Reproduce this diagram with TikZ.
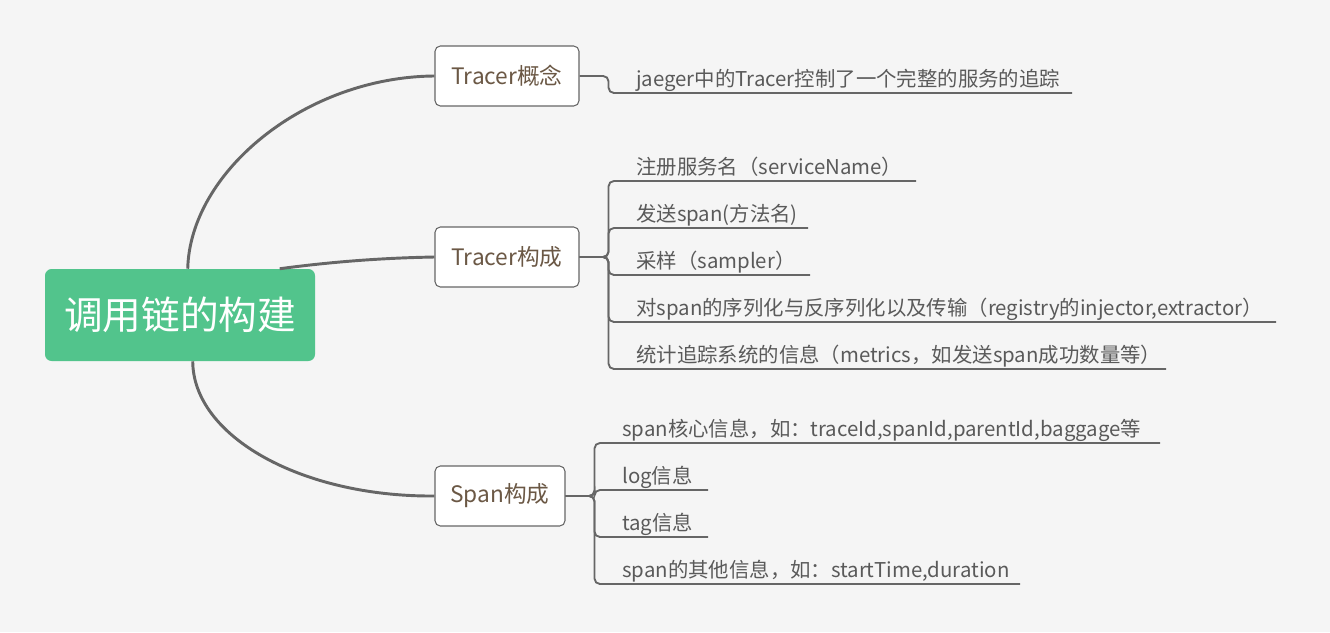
\documentclass[tikz,border=0pt]{standalone}
\usepackage{fontspec}
\setmainfont{Noto Sans CJK SC}
\usetikzlibrary{calc}
\definecolor{bg}{HTML}{F5F5F5}
\definecolor{rootgreen}{HTML}{52C48C}
\definecolor{linegray}{HTML}{666666}
\definecolor{boxtext}{HTML}{6B5845}
\definecolor{leaftext}{HTML}{5A5A5A}
\begin{document}
\begin{tikzpicture}[x=0.75pt,y=-0.75pt,
  conn/.style={draw=linegray,line width=2.2pt},
  branch/.style={draw=linegray,line width=1.4pt,rounded corners=4pt},
  topic/.style={draw=linegray,line width=0.8pt,fill=white,rounded corners=4pt,
    text=boxtext,font=\fontsize{17}{19}\selectfont,minimum height=45pt,inner sep=0pt},
  leaf/.style={anchor=base west,text=leaftext,font=\fontsize{15.3}{17}\selectfont,inner sep=0pt}]
\useasboundingbox[fill=bg] (0,0) rectangle (1330,632);

% root
\node[fill=rootgreen,rounded corners=5pt,minimum width=202.5pt,minimum height=69pt,
  inner sep=0pt,text=white,font=\fontsize{29}{31}\selectfont] (root) at (180,315) {调用链的构建};

% main topics
\node[topic,minimum width=108pt] (t1) at (507,76) {Tracer概念};
\node[topic,minimum width=108pt] (t2) at (507,257) {Tracer构成};
\node[topic,minimum width=97.5pt] (t3) at (500,496) {Span构成};

% root connectors
\coordinate (r1) at ($(root.north west)+(143,0)$);
\coordinate (r2) at ($(root.north west)+(235,0)$);
\coordinate (r3) at ($(root.south west)+(148,0)$);
\draw[conn] (r1) .. controls (190,172) and (305,77) .. (t1.west);
\draw[conn] (r2) .. controls (330,262) and (380,258) .. (t2.west);
\draw[conn] (r3) .. controls (193,436) and (301,497) .. (t3.west);

% Tracer概念 leaves
\coordinate (e1) at (1072,93);
\node[leaf] (l1) at (636,86) {jaeger中的Tracer控制了一个完整的服务的追踪};
\draw[branch] (t1.east) -- ++(29,0) |- (e1);

% Tracer构成 leaves
\coordinate (e21) at (916,181);
\coordinate (e22) at (808,228);
\coordinate (e23) at (810,275);
\coordinate (e24) at (1276,322);
\coordinate (e25) at (1166,369);
\node[leaf] (l21) at (636,174) {注册服务名（serviceName）};
\node[leaf] (l22) at (636,221) {发送span(方法名)};
\node[leaf] (l23) at (636,268) {采样（sampler）};
\node[leaf] (l24) at (636,315) {对span的序列化与反序列化以及传输（registry的injector,extractor）};
\node[leaf] (l25) at (636,362) {统计追踪系统的信息（metrics，如发送span成功数量等）};
\foreach \e in {e21,e22,e23,e24,e25}
  \draw[branch] (t2.east) -- ++(29,0) |- (\e);

% Span构成 leaves
\coordinate (e31) at (1160,443);
\coordinate (e32) at (708,490);
\coordinate (e33) at (708,537);
\coordinate (e34) at (1020,584);
\node[leaf] (l31) at (622,436) {span核心信息，如：traceId,spanId,parentId,baggage等};
\node[leaf] (l32) at (622,483) {log信息};
\node[leaf] (l33) at (622,530) {tag信息};
\node[leaf] (l34) at (622,577) {span的其他信息，如：startTime,duration};
\foreach \e in {e31,e32,e33,e34}
  \draw[branch] (t3.east) -- ++(29,0) |- (\e);
\end{tikzpicture}
\end{document}
